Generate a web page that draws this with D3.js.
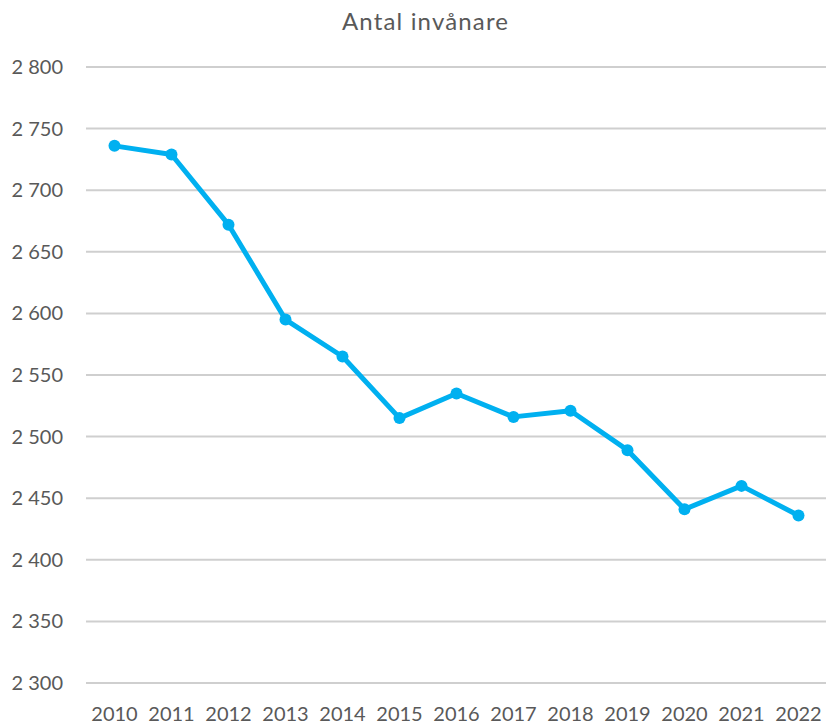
<!DOCTYPE html>
<html><head><meta charset="utf-8">
<script src="https://cdn.jsdelivr.net/npm/d3@7"></script>
<style>body{margin:0;background:#fff}svg{display:block}</style>
</head><body>
<svg id="c" width="826" height="727"></svg>
<script>
const years = ["2010","2011","2012","2013","2014","2015","2016","2017","2018","2019","2020","2021","2022"];
const population = [2736,2729,2672,2595,2565,2515,2535,2516,2521,2489,2441,2460,2436];
const yTicks = [2300,2350,2400,2450,2500,2550,2600,2650,2700,2750,2800];
const chartTitle = "Antal invånare";

(function(){
const svg = d3.select("#c");
const font = "Lato, 'Open Sans', sans-serif";
const pL = 86, pR = 827, pT = 67, pB = 683;

const x = d3.scaleBand().domain(years).range([pL, pR]);
const y = d3.scaleLinear().domain([2300, 2800]).range([pB, pT]);
const fmt = v => d3.format(",")(v).replace(",", " ");

svg.append("g").selectAll("line").data(yTicks).join("line")
  .attr("x1", pL).attr("x2", pR)
  .attr("y1", d => y(d)).attr("y2", d => y(d))
  .attr("stroke", "#cfcfcf").attr("stroke-width", 2);

svg.append("g").selectAll("text").data(yTicks).join("text")
  .attr("x", 63).attr("y", d => y(d)).attr("dy", "0.35em")
  .attr("text-anchor", "end").attr("font-family", font).attr("font-size", 20)
  .attr("fill", "#595959").text(fmt);

svg.append("g").selectAll("text").data(years).join("text")
  .attr("x", d => x(d) + x.bandwidth()/2).attr("y", 721)
  .attr("text-anchor", "middle").attr("font-family", font).attr("font-size", 20)
  .attr("fill", "#595959").text(d => d);

svg.append("text").attr("x", 425).attr("y", 30).attr("text-anchor", "middle")
  .attr("font-family", font).attr("font-size", 24).attr("fill", "#595959")
  .attr("textLength", 166).attr("lengthAdjust", "spacing").text(chartTitle);

const pts = years.map((d, i) => [x(d) + x.bandwidth()/2, y(population[i])]);
svg.append("path").attr("d", d3.line()(pts)).attr("fill", "none")
  .attr("stroke", "#00B0F0").attr("stroke-width", 5).attr("stroke-linejoin", "round");
svg.append("g").selectAll("circle").data(pts).join("circle")
  .attr("cx", d => d[0]).attr("cy", d => d[1]).attr("r", 6).attr("fill", "#00B0F0");
})();
</script>
</body></html>
